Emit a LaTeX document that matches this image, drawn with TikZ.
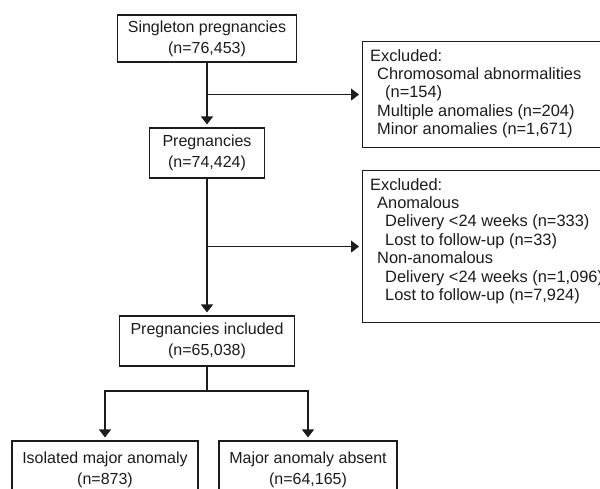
\documentclass[tikz,border=0pt]{standalone}
\usepackage{fontspec}
\usetikzlibrary{arrows.meta, positioning}
\newfontfamily\ChartFont{Liberation Sans}
\definecolor{InkGrey}{HTML}{1C1C1C}
\definecolor{PaperWhite}{HTML}{FFFFFF}

\begin{document}
\begin{tikzpicture}[x=1pt, y=-1pt,
  box/.style={draw=InkGrey, line width=1.1pt, fill=PaperWhite, align=center, inner sep=0pt,
    text=InkGrey, font=\ChartFont\fontsize{16pt}{21pt}\selectfont},
  exclbox/.style={draw=InkGrey, line width=1.1pt, fill=PaperWhite, anchor=north west, inner sep=0pt},
  excltext/.style={align=left, inner sep=0pt, text=InkGrey, font=\ChartFont\fontsize{16.4pt}{18.4pt}\selectfont},
  flow/.style={InkGrey, line width=1.1pt, shorten >=3pt, -{Triangle[length=8pt, width=12pt]}},
  link/.style={InkGrey, line width=1.1pt}]
  % page frame, cut at the edges like the reference
  \clip (0,0) rectangle (600,488);
  \fill[PaperWhite] (0,0) rectangle (600,488);
  % main column of counts
  \node[box, minimum width=179pt, minimum height=47pt] (single) at (207,38.5) {Singleton pregnancies\\(n=76,453)};
  \node[box, minimum width=115pt, minimum height=50pt] (preg) at (207,153) {Pregnancies\\(n=74,424)};
  \node[box, minimum width=175pt, minimum height=50pt] (incl) at (207,341) {Pregnancies included\\(n=65,038)};
  % the two outcome groups (run off the bottom edge)
  \node[box, minimum width=186pt, minimum height=58pt] (isol) at (105,470) {Isolated major anomaly\\(n=873)};
  \node[box, minimum width=178pt, minimum height=58pt] (absent) at (308,470) {Major anomaly absent\\(n=64,165)};
  % exclusion boxes (run off the right edge)
  \node[exclbox, minimum width=250pt, minimum height=106pt] (excl1) at (362,41) {};
  \node[excltext, below right=8pt and 8pt of excl1.north west]
    {Excluded:\\\hspace*{7pt}Chromosomal abnormalities\\\hspace*{15pt}(n=154)\\
     \hspace*{7pt}Multiple anomalies (n=204)\\\hspace*{7pt}Minor anomalies (n=1,671)};
  \node[exclbox, minimum width=250pt, minimum height=152pt] (excl2) at (362,170) {};
  \node[excltext, below right=8pt and 8pt of excl2.north west]
    {Excluded:\\\hspace*{7pt}Anomalous\\\hspace*{15pt}Delivery <24 weeks (n=333)\\
     \hspace*{15pt}Lost to follow-up (n=33)\\\hspace*{7pt}Non-anomalous\\
     \hspace*{15pt}Delivery <24 weeks (n=1,096)\\\hspace*{15pt}Lost to follow-up (n=7,924)};
  % connectors
  \draw[flow] (single.south) -- (preg.north);
  \draw[flow] (single.south |- excl1.west) -- (excl1.west);
  \draw[flow] (preg.south) -- (incl.north);
  \draw[flow] (preg.south |- excl2.west) -- (excl2.west);
  \coordinate (fork) at (207,391);
  \draw[link] (incl.south) -- (fork);
  \draw[flow] (fork) -| (isol.north);
  \draw[flow] (fork) -| (absent.north);
\end{tikzpicture}
\end{document}
